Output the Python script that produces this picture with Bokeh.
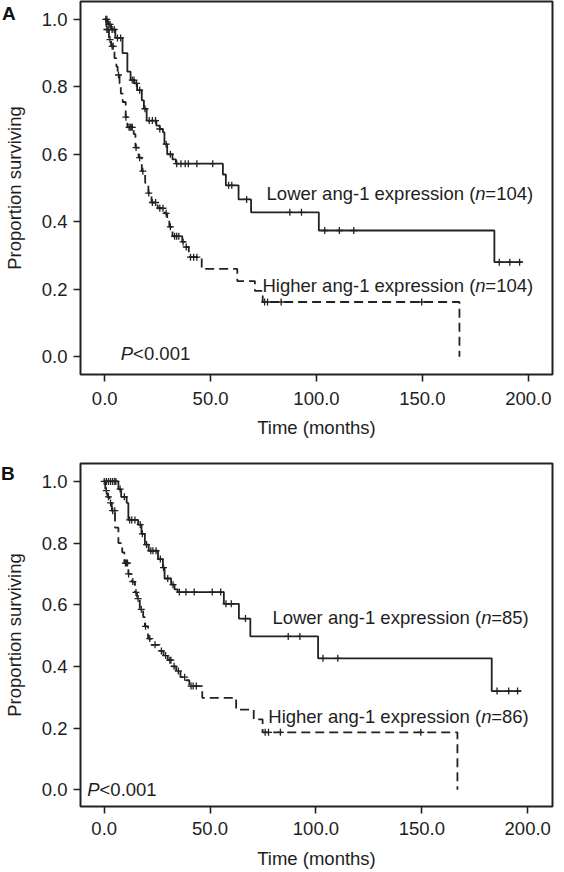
import numpy as np
from bokeh.plotting import figure
from bokeh.layouts import column
from bokeh.models import Range1d, FixedTicker, PrintfTickFormatter, Label, Div
from bokeh.embed import file_html
from bokeh.resources import INLINE

# ---------------- data ----------------
x_ticks = [0, 50, 100, 150, 200]
y_ticks = [0.0, 0.2, 0.4, 0.6, 0.8, 1.0]

# Panel A - lower ang-1 expression (solid)
a_low_t = [0, 1.5, 3, 5, 8.4, 10.7, 12.2, 14, 15.3, 17.5, 18.5, 19.8, 24.4, 26, 27.5,
           28.2, 29.5, 32, 33.6, 55.8, 57.2, 63.2, 69.1, 101.1, 184.0, 197.3]
a_low_s = [1.0, 0.985, 0.97, 0.945, 0.90, 0.845, 0.82, 0.81, 0.79, 0.76, 0.735, 0.70,
           0.685, 0.675, 0.665, 0.63, 0.60, 0.585, 0.572, 0.54, 0.508, 0.466, 0.428,
           0.374, 0.28, 0.28]
a_low_cens = [0.5, 1, 2, 2.5, 3.5, 4.5, 6, 7.5, 13, 13.8, 15, 16.5, 19, 21, 22.5, 24, 26,
              29, 31, 34, 36, 38, 39.5, 43.5, 51, 58.5, 60, 67, 87.4, 92.9, 103.9, 110.8,
              117.6, 186.3, 191.3, 195.9]

# Panel A - higher ang-1 expression (dashed)
a_high_t = [0, 0.8, 2, 3, 4.6, 5.5, 6.1, 7, 7.6, 8.5, 9.9, 10.7, 13.7, 14.5, 16, 17.5,
            19.1, 20.6, 22.1, 25, 28.2, 29.5, 30.5, 32, 36.6, 38, 39.7, 45.8, 62.6, 70.9,
            74.6, 167.5]
a_high_s = [1.0, 0.97, 0.94, 0.92, 0.885, 0.86, 0.835, 0.81, 0.78, 0.755, 0.71, 0.68,
            0.66, 0.62, 0.59, 0.55, 0.515, 0.485, 0.457, 0.44, 0.425, 0.405, 0.385, 0.357,
            0.34, 0.325, 0.295, 0.26, 0.224, 0.195, 0.162, 0.0]
a_high_cens = [1, 1.5, 2.5, 3.5, 4, 6.5, 10, 11.5, 12, 12.5, 13, 14.8, 16.5, 18, 20.8,
               22.5, 24, 26, 27.5, 29, 31, 33, 34, 35, 37, 38.5, 40.5, 42, 43.5, 75.5,
               76.9, 83.3, 149.7]

# Panel B - lower ang-1 expression (solid)
b_low_t = [0, 6.7, 8, 10.6, 11.4, 16, 17.6, 19.2, 21, 25.4, 27.7, 28.5, 31.6, 33.2, 34.7,
           56.5, 63.6, 69, 101, 183, 197]
b_low_s = [1.0, 0.975, 0.95, 0.93, 0.875, 0.86, 0.83, 0.795, 0.775, 0.748, 0.72, 0.685,
           0.665, 0.65, 0.641, 0.603, 0.555, 0.497, 0.426, 0.32, 0.32]
b_low_cens = [0, 1, 2, 3, 4, 5, 5.5, 7.5, 9.5, 12, 13, 14.5, 17, 18, 20, 22, 23, 24.5,
              26.5, 28, 30, 32.5, 35.5, 38.6, 42.5, 51, 55, 57.5, 60, 66.7, 86.9, 92.4,
              103.3, 110.3, 185.5, 191, 195.2]

# Panel B - higher ang-1 expression (dashed)
b_high_t = [0, 0.5, 1.5, 2.5, 3.6, 5.1, 6.7, 8.5, 9.5, 11.4, 13, 14.5, 15.5, 16.8, 18.4,
            19.2, 20.7, 22, 26.2, 28, 30, 32, 34, 36, 38.6, 40.2, 46.3, 62.3, 70.6, 74.8,
            166.8]
b_high_s = [1.0, 0.97, 0.95, 0.93, 0.905, 0.85, 0.80, 0.77, 0.735, 0.70, 0.675, 0.64,
            0.62, 0.585, 0.56, 0.53, 0.49, 0.47, 0.45, 0.435, 0.42, 0.40, 0.385, 0.365,
            0.355, 0.336, 0.298, 0.26, 0.228, 0.186, 0.0]
b_high_cens = [1, 2, 3, 4, 5, 10, 10.5, 11, 11.5, 13.5, 15, 16, 17.5, 19.5, 21.5, 24, 27,
               29, 31, 31.5, 33, 35, 38, 41, 42, 43.5, 76, 77.6, 83.2, 149.5]

a_low_label = ("Lower ang-1 expression (", "n", "=104)")
a_high_label = ("Higher ang-1 expression (", "n", "=104)")
b_low_label = ("Lower ang-1 expression (", "n", "=85)")
b_high_label = ("Higher ang-1 expression (", "n", "=86)")
p_label = ("P", "<0.001")
x_title = "Time (months)"
y_title = "Proportion surviving"

# ---------------- styling ----------------
FONT = "Liberation Sans"
INK = "#1e1e1e"
LINE = "#222222"
FS = "18.5px"


def surv_at(t_steps, s_steps, times):
    idx = np.searchsorted(np.asarray(t_steps), np.asarray(times), side="right") - 1
    idx = np.clip(idx, 0, len(s_steps) - 1)
    return np.asarray(s_steps)[idx]


def add_label(p, x, y, parts, n_width=10):
    a, b, c = parts
    p.add_layout(Label(x=x, y=y, text=a, text_align="right", text_baseline="middle",
                       text_font=FONT, text_font_size=FS, text_color=INK))
    p.add_layout(Label(x=x, y=y, text=b, text_align="left", text_baseline="middle",
                       text_font=FONT, text_font_size=FS, text_color=INK,
                       text_font_style="italic"))
    p.add_layout(Label(x=x, y=y, x_offset=n_width, text=c, text_align="left",
                       text_baseline="middle", text_font=FONT, text_font_size=FS,
                       text_color=INK))


def add_p(p, x, y):
    p.add_layout(Label(x=x, y=y, text=p_label[0], text_align="right",
                       text_baseline="middle", text_font=FONT, text_font_size=FS,
                       text_color=INK, text_font_style="italic"))
    p.add_layout(Label(x=x, y=y, text=p_label[1], text_align="left",
                       text_baseline="middle", text_font=FONT, text_font_size=FS,
                       text_color=INK))


def make_panel(xr, yr, height, b_top, b_bottom, b_right, curves,
               x_standoff, x_label_standoff):
    p = figure(width=564, height=height, x_range=Range1d(*xr), y_range=Range1d(*yr),
               output_backend="svg", toolbar_location=None,
               min_border_left=75, min_border_right=b_right,
               min_border_top=b_top, min_border_bottom=b_bottom)
    p.xgrid.visible = False
    p.ygrid.visible = False
    p.background_fill_color = "white"
    p.border_fill_color = "white"
    p.outline_line_color = LINE
    p.outline_line_width = 2

    for ax in (p.xaxis[0], p.yaxis[0]):
        ax.axis_line_color = None
        ax.major_tick_out = 7
        ax.major_tick_in = 0
        ax.major_tick_line_color = LINE
        ax.major_tick_line_width = 1.6
        ax.minor_tick_line_color = None
        ax.major_label_text_font = FONT
        ax.major_label_text_font_size = FS
        ax.major_label_text_color = INK
        ax.axis_label_text_font = FONT
        ax.axis_label_text_font_size = FS
        ax.axis_label_text_font_style = "normal"
        ax.axis_label_text_color = INK
        ax.formatter = PrintfTickFormatter(format="%.1f")

    p.xaxis[0].ticker = FixedTicker(ticks=x_ticks)
    p.yaxis[0].ticker = FixedTicker(ticks=y_ticks)
    p.xaxis[0].axis_label = x_title
    p.yaxis[0].axis_label = y_title
    p.xaxis[0].major_label_standoff = x_standoff
    p.xaxis[0].axis_label_standoff = x_label_standoff
    p.yaxis[0].major_label_standoff = 6
    p.yaxis[0].axis_label_standoff = 14

    for t, s, cens, dash in curves:
        p.step(x=t, y=s, mode="after", line_color=LINE, line_width=1.8,
               line_dash=dash)
        p.scatter(x=cens, y=surv_at(t, s, cens), marker="cross", size=7,
                  line_color=LINE, line_width=1.3)
    return p


def letter_div(letter, left, top):
    return Div(text=letter, styles={
        "position": "absolute", "left": f"{left}px", "top": f"{top}px",
        "font-family": FONT, "font-size": "19px", "font-weight": "bold",
        "color": "#111111", "line-height": "1", "margin": "0", "padding": "0",
        "z-index": "10"})


pA = make_panel((-11.44, 211.44), (-0.053, 1.053), 440, 1, 63, 2,
                [(a_low_t, a_low_s, a_low_cens, "solid"),
                 (a_high_t, a_high_s, a_high_cens, "9 5")],
                10, 9)
add_label(pA, 175, 0.484, a_low_label)
add_label(pA, 175, 0.212, a_high_label)
add_p(pA, 13.4, 0.009)

pB = make_panel((-11.2, 211.7), (-0.0545, 1.058), 431, 23, 61, 12,
                [(b_low_t, b_low_s, b_low_cens, "solid"),
                 (b_high_t, b_high_s, b_high_cens, "9 5")],
                8, 10)
add_label(pB, 178, 0.558, b_low_label)
add_label(pB, 178, 0.237, b_high_label)
add_p(pB, -2.2, 0.0)

layout = column(pA, pB, letter_div("A", 2, 4), letter_div("B", 1, 464))
open("out.html", "w").write(file_html(layout, INLINE))
